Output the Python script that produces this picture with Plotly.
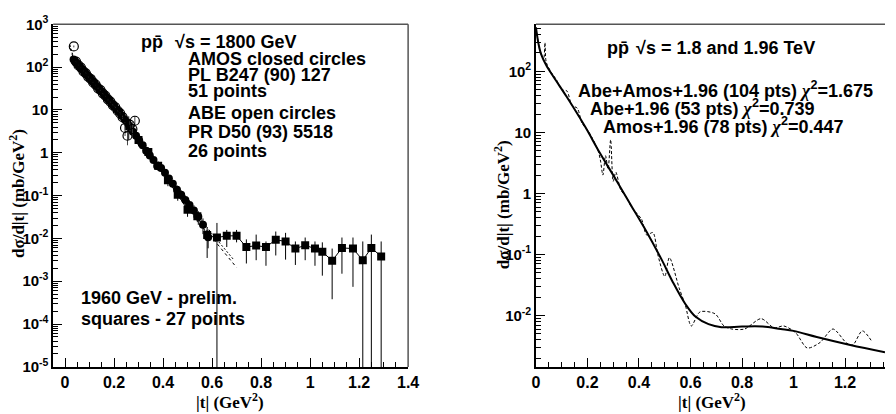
import plotly.graph_objects as go

# ---------------- data (left panel) ----------------
amos_t = [0.035, 0.040, 0.045, 0.050, 0.055, 0.060, 0.066, 0.072, 0.078, 0.084,
          0.090, 0.097, 0.104, 0.111, 0.118, 0.125, 0.133, 0.141, 0.149, 0.157,
          0.165, 0.174, 0.183, 0.192, 0.201, 0.211, 0.221, 0.231, 0.242, 0.253,
          0.265, 0.277, 0.290, 0.303, 0.317, 0.331, 0.346, 0.361, 0.376, 0.392,
          0.408, 0.424, 0.440, 0.457, 0.474, 0.491, 0.508, 0.526, 0.544, 0.563, 0.584]
amos_y = [151, 140, 128, 121, 110, 104, 93, 87, 78, 72,
          66, 58, 53.5, 47, 43.5, 38, 34.5, 30, 27, 23.5,
          21.2, 18.0, 16.2, 13.7, 12.3, 10.2, 9.1, 7.3, 6.1, 5.2,
          4.0, 3.1, 2.5, 1.9, 1.5, 1.12, 0.87, 0.68, 0.49, 0.44,
          0.34, 0.25, 0.19, 0.138, 0.105, 0.079, 0.060, 0.045, 0.032, 0.021, 0.0107]
amos_err_pct = [2, 2, 2, 2, 2, 2, 2, 2, 2, 2,
                2, 2, 2, 2, 2, 2, 3, 3, 3, 3,
                3, 3, 3, 4, 4, 4, 5, 6, 8, 10,
                10, 10, 12, 12, 14, 14, 15, 15, 18, 18,
                20, 20, 22, 25, 25, 28, 30, 32, 35, 40, 45]

abe_t = [0.036, 0.045, 0.055, 0.065, 0.075, 0.085, 0.095, 0.105, 0.115, 0.125,
         0.135, 0.145, 0.155, 0.165, 0.175, 0.185, 0.195, 0.205, 0.215, 0.225,
         0.235, 0.245, 0.255, 0.265, 0.275, 0.285]
abe_y = [305, 135, 110, 98, 80, 72, 59, 53, 44, 39,
         32, 29, 24, 21.5, 17.6, 15.6, 13.0, 11.6, 9.6, 8.3,
         6.8, 3.8, 2.5, 4.5, 3.6, 5.6]
abe_err_pct = [5, 3, 3, 3, 3, 3, 3, 3, 3, 3,
               3, 3, 3, 3, 4, 4, 4, 5, 5, 6,
               8, 35, 40, 30, 35, 30]

sq_t = [0.26, 0.30, 0.34, 0.38, 0.42, 0.46, 0.50, 0.54, 0.58, 0.62,
        0.66, 0.70, 0.74, 0.78, 0.82, 0.86, 0.90, 0.94, 0.98, 1.02,
        1.05, 1.09, 1.13, 1.175, 1.215, 1.25, 1.29]
sq_y = [4.17, 2.0, 1.05, 0.50, 0.229, 0.105, 0.0468, 0.0331, 0.0120, 0.0105,
        0.0115, 0.0115, 0.0063, 0.0068, 0.0063, 0.0093, 0.0085, 0.0058, 0.0069, 0.0058,
        0.0049, 0.0030, 0.0060, 0.0058, 0.0031, 0.0060, 0.0038]
sq_hi = [7.1, 2.6, 1.32, 0.63, 0.288, 0.132, 0.060, 0.042, 0.0178, 0.023,
         0.0158, 0.0158, 0.0095, 0.0123, 0.0085, 0.0145, 0.0135, 0.0085, 0.0105, 0.0085,
         0.0081, 0.0058, 0.0105, 0.0105, 0.0085, 0.0123, 0.0085]
sq_lo = [2.0, 1.41, 0.79, 0.38, 0.166, 0.076, 0.032, 0.024, 0.0035, 1e-7,
         0.0063, 0.0081, 0.0026, 0.0031, 0.0023, 0.0040, 0.0032, 0.0024, 0.0031, 0.0023,
         0.00135, 0.00038, 0.0015, 0.00074, 1e-7, 1e-7, 1e-7]

fitA_t = [0.02, 0.035, 0.1, 0.2, 0.3, 0.4, 0.5, 0.6, 0.7]
fitA_y = [280, 160, 60, 12.5, 2.1, 0.37, 0.062, 0.0105, 0.0021]
fitB_t = [0.02, 0.035, 0.1, 0.2, 0.3, 0.4, 0.5, 0.6, 0.69]
fitB_y = [330, 168, 62, 13.2, 2.25, 0.40, 0.070, 0.0128, 0.0031]

# ---------------- data (right panel) ----------------
fit_t = [0.0, 0.01, 0.02, 0.04, 0.07, 0.12, 0.19, 0.25, 0.31, 0.37,
         0.43, 0.49, 0.53, 0.58, 0.62, 0.67, 0.72, 0.80, 0.88, 0.95,
         1.00, 1.09, 1.22, 1.355]
fit_y = [525, 282, 191, 126, 79.4, 38.0, 12.6, 4.47, 1.70, 0.631,
         0.234, 0.0794, 0.0363, 0.0155, 0.00955, 0.00724, 0.00646, 0.00661, 0.00661, 0.00603,
         0.00562, 0.00447, 0.00331, 0.00251]

osc_t = [0.0, 0.015, 0.03, 0.035, 0.04, 0.06, 0.08, 0.10, 0.12, 0.14,
         0.16, 0.18, 0.20, 0.22, 0.24, 0.25, 0.26, 0.27, 0.28, 0.29,
         0.30, 0.31, 0.33, 0.35, 0.37, 0.39, 0.41, 0.43, 0.454, 0.473,
         0.50, 0.518, 0.556, 0.58, 0.603, 0.637, 0.695, 0.73, 0.76, 0.81,
         0.874, 0.924, 0.962, 1.008, 1.053, 1.103, 1.153, 1.206, 1.23, 1.267, 1.305]
osc_y = [525, 224, 158, 295, 141, 95.5, 72.4, 50.0, 47.9, 27.5,
         25.1, 13.8, 11.0, 7.9, 5.25, 3.55, 2.0, 4.17, 2.51, 7.59,
         1.58, 2.24, 1.12, 0.891, 0.603, 0.479, 0.380, 0.209, 0.229, 0.100,
         0.0437, 0.0891, 0.0282, 0.0148, 0.00676, 0.0115, 0.0107, 0.00676, 0.00603, 0.00603,
         0.00891, 0.00631, 0.00676, 0.00525, 0.00295, 0.00363, 0.00603, 0.00355, 0.00331, 0.00562, 0.00372]

xt_vals = [0, 0.2, 0.4, 0.6, 0.8, 1.0, 1.2, 1.4]
xt_text = ["0", "0.2", "0.4", "0.6", "0.8", "1", "1.2", "1.4"]
yl_vals = [1e-5, 1e-4, 1e-3, 1e-2, 1e-1, 1, 10, 100, 1000]
yl_text = ["10<sup>-5</sup>", "10<sup>-4</sup>", "10<sup>-3</sup>", "10<sup>-2</sup>",
           "10<sup>-1</sup>", "1", "10", "10<sup>2</sup>", "10<sup>3</sup>"]
yr_vals = [1e-2, 1e-1, 1, 10, 100]
yr_text = ["10<sup>-2</sup>", "10<sup>-1</sup>", "1", "10", "10<sup>2</sup>"]

W, H = 896, 414
def px(x):
    return x / W
def py(y):
    return 1 - y / H

fig = go.Figure()

# left panel
for ft, fy, dsh in [(fitA_t, fitA_y, "dot"), (fitB_t, fitB_y, "2px,2px")]:
    fig.add_trace(go.Scatter(x=ft, y=fy, mode="lines", line=dict(color="black", width=1, dash=dsh),
                             xaxis="x", yaxis="y", showlegend=False, hoverinfo="skip"))

fig.add_trace(go.Scatter(
    x=amos_t, y=amos_y, mode="markers",
    marker=dict(symbol="circle", size=8, color="black"),
    error_y=dict(type="data", array=[v * p / 100 for v, p in zip(amos_y, amos_err_pct)],
                 color="black", thickness=1, width=0),
    xaxis="x", yaxis="y", showlegend=False))

fig.add_trace(go.Scatter(
    x=sq_t, y=sq_y, mode="lines+markers",
    line=dict(color="black", width=1),
    marker=dict(symbol="square", size=8, color="black"),
    error_y=dict(type="data", symmetric=False,
                 array=[h - v for h, v in zip(sq_hi, sq_y)],
                 arrayminus=[v - l for v, l in zip(sq_y, sq_lo)],
                 color="black", thickness=1, width=0),
    xaxis="x", yaxis="y", showlegend=False))

fig.add_trace(go.Scatter(
    x=abe_t, y=abe_y, mode="markers",
    marker=dict(symbol="circle-open", size=9, color="black", line=dict(width=1.2)),
    error_y=dict(type="data", array=[v * p / 100 for v, p in zip(abe_y, abe_err_pct)],
                 color="#444", thickness=1, width=0),
    xaxis="x", yaxis="y", showlegend=False))

# right panel
fig.add_trace(go.Scatter(x=osc_t, y=osc_y, mode="lines",
                         line=dict(color="black", width=1, dash="3px,2px", shape="spline", smoothing=0.8),
                         xaxis="x2", yaxis="y2", showlegend=False, hoverinfo="skip"))
fig.add_trace(go.Scatter(x=fit_t, y=fit_y, mode="lines",
                         line=dict(color="black", width=2, shape="spline", smoothing=1.0),
                         xaxis="x2", yaxis="y2", showlegend=False, hoverinfo="skip"))

tickfont = dict(family="Liberation Sans", size=16, color="black", weight="bold")
ytickfont = dict(family="Liberation Sans", size=15, color="black", weight="bold")
ydom = [py(373), py(14)]

common_x = dict(showline=True, linecolor="black", linewidth=1.5, ticks="inside", ticklen=9,
                tickwidth=1.2, tickcolor="black", showgrid=False, zeroline=False,
                tickvals=xt_vals, ticktext=xt_text, tickfont=tickfont,
                minor=dict(ticks="inside", dtick=0.05, tick0=0, ticklen=5, tickwidth=1,
                           tickcolor="black", showgrid=False))
common_y = dict(type="log", showline=True, linecolor="black", linewidth=1.5, ticks="inside",
                ticklen=9, tickwidth=1.2, tickcolor="black", showgrid=False, zeroline=False,
                tickfont=ytickfont,
                minor=dict(ticks="inside", dtick="D1", ticklen=5, tickwidth=1,
                           tickcolor="black", showgrid=False))

fig.update_layout(
    width=W, height=H, margin=dict(l=0, r=0, t=0, b=0),
    paper_bgcolor="white", plot_bgcolor="white",
    xaxis=dict(domain=[px(50), px(411)], range=[-0.0483, 1.4], anchor="y", **common_x),
    yaxis=dict(domain=ydom, range=[-5, 3], anchor="x", tickvals=yl_vals, ticktext=yl_text, **common_y),
    xaxis2=dict(domain=[px(541), 1.0], range=[0, 1.355], anchor="y2", **common_x),
    yaxis2=dict(domain=ydom, range=[-2.84, 2.77], anchor="x2", tickvals=yr_vals, ticktext=yr_text, **common_y),
)

# frame lines (top / right), grey like the reference
for x0, x1, y0, y1 in [(50, 411, 14, 14), (411, 411, 14, 373), (541, 896, 14, 14)]:
    fig.add_shape(type="line", xref="paper", yref="paper", x0=px(x0), x1=px(x1), y0=py(y0), y1=py(y1),
                  line=dict(color="#555", width=1.5))

sans = dict(family="Liberation Sans", size=18, color="black", weight="bold")
serif = dict(family="Liberation Serif", size=17, color="black", weight="bold")

chi = "<span style='font-family:Liberation Serif;font-style:italic'>\u03c7</span><sup>2</sup>"
texts = [
    ("pp\u0304", 137, 32),
    ("\u221As = 1800 GeV", 172, 32),
    ("AMOS closed circles", 185, 50),
    ("PL B247 (90) 127", 185, 67),
    ("51 points", 185, 84),
    ("ABE open circles", 185, 107),
    ("PR D50 (93) 5518", 185, 127),
    ("26 points", 185, 147),
    ("1960 GeV - prelim.", 76, 301),
    ("squares - 27 points", 76, 323),
    ("pp\u0304", 611, 39),
    ("\u221As = 1.8 and 1.96 TeV", 641, 39),
    ("Abe+Amos+1.96 (104 pts) " + chi + "=1.675", 582, 82),
    ("Abe+1.96 (53 pts) " + chi + "=0.739", 594, 101),
    ("Amos+1.96 (78 pts) " + chi + "=0.447", 607, 120),
]
for t, x, y in texts:
    fig.add_annotation(text=t, x=px(x), y=py(y), xref="paper", yref="paper", xanchor="left",
                       yanchor="middle", showarrow=False, font=sans)

# axis titles
for x in [230, 720]:
    fig.add_annotation(text="|t| (GeV<sup>2</sup>)", x=px(x), y=py(421), xref="paper", yref="paper",
                       xanchor="center", yanchor="bottom", borderpad=0, showarrow=False, font=serif)
for x, y in [(13, 191), (506, 203)]:
    fig.add_annotation(text="d\u03c3/d|t| (mb/GeV<sup>2</sup>)", x=px(x), y=py(y), xref="paper",
                       yref="paper", xanchor="center", yanchor="middle", textangle=-90,
                       showarrow=False, font=serif)

fig.write_html("out.html")
